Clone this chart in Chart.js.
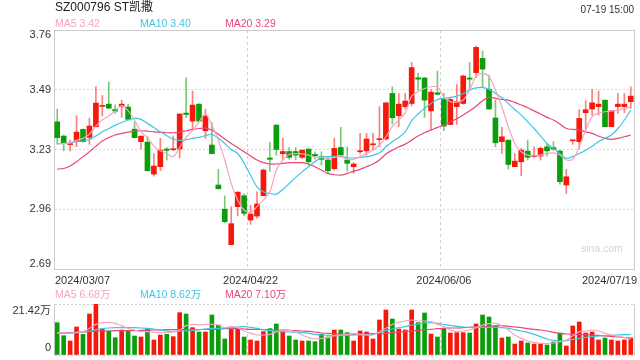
<!DOCTYPE html>
<html><head><meta charset="utf-8">
<script src="https://cdn.jsdelivr.net/npm/chart.js@4.4.1/dist/chart.umd.min.js"></script>
<style>
html,body{margin:0;padding:0;background:#fff;}
#wrap{position:relative;width:640px;height:360px;overflow:hidden;background:#fff;}
#main{position:absolute;left:0;top:0;}
#vol{position:absolute;left:0;top:290px;}
</style></head><body>
<div id="wrap"><canvas id="main" width="640" height="290"></canvas><canvas id="vol" width="640" height="70"></canvas></div>
<script>
const title = 'SZ000796 ST凯撒';
const timeText = '07-19 15:00';
const dates = ['2024/03/07','2024/03/08','2024/03/11','2024/03/12','2024/03/13','2024/03/14','2024/03/15','2024/03/18','2024/03/19','2024/03/20','2024/03/21','2024/03/22','2024/03/25','2024/03/26','2024/03/27','2024/03/28','2024/03/29',
'2024/04/01','2024/04/02','2024/04/03','2024/04/08','2024/04/09','2024/04/10','2024/04/11','2024/04/12','2024/04/15','2024/04/16','2024/04/17','2024/04/18','2024/04/19','2024/04/22','2024/04/23','2024/04/24','2024/04/25','2024/04/26','2024/04/29','2024/04/30',
'2024/05/06','2024/05/07','2024/05/08','2024/05/09','2024/05/10','2024/05/13','2024/05/14','2024/05/15','2024/05/16','2024/05/17','2024/05/20','2024/05/21','2024/05/22','2024/05/23','2024/05/24','2024/05/27','2024/05/28','2024/05/29','2024/05/30','2024/05/31',
'2024/06/03','2024/06/04','2024/06/05','2024/06/06','2024/06/11','2024/06/12','2024/06/13','2024/06/14','2024/06/17','2024/06/18','2024/06/19','2024/06/20','2024/06/21','2024/06/24','2024/06/25','2024/06/26','2024/06/27','2024/06/28',
'2024/07/01','2024/07/02','2024/07/03','2024/07/04','2024/07/05','2024/07/08','2024/07/09','2024/07/10','2024/07/11','2024/07/12','2024/07/15','2024/07/16','2024/07/17','2024/07/18','2024/07/19'];
const xTickLabels = ['2024/03/07','2024/04/22','2024/06/06','2024/07/19'];
const yTicks = [2.69, 2.9575, 3.225, 3.4925, 3.76];
const yTickLabels = ['2.69','2.96','3.23','3.49','3.76'];
const volTicks = [0, 21.42];
const volTickLabels = ['0','21.42万'];

const open = [3.349,3.285,3.247,3.260,3.315,3.279,3.327,3.418,3.428,3.404, 3.418,3.415,3.316,3.260,3.258,3.115,3.148,3.227,3.224,3.227, 3.388,3.352,3.428,3.309,3.245,3.066,2.958,2.799,2.969,3.018, 2.909,2.927,3.018,3.187,3.334,3.206,3.216,3.216,3.190,3.227, 3.203,3.193,3.178,3.139,3.234,3.178,3.148,3.215,3.219,3.246, 3.269,3.272,3.476,3.376,3.417,3.431,3.546,3.545,3.398,3.479, 3.449,3.337,3.417,3.431,3.545,3.569,3.633,3.495,3.366,3.260, 3.267,3.148,3.170,3.218,3.193,3.196,3.237,3.234,3.218,3.066, 3.264,3.260,3.390,3.406,3.417,3.446,3.327,3.417,3.417,3.439];
const high = [3.406,3.290,3.267,3.376,3.318,3.366,3.507,3.467,3.527,3.425, 3.446,3.427,3.348,3.285,3.282,3.207,3.275,3.234,3.285,3.384, 3.546,3.487,3.430,3.406,3.345,3.136,3.017,2.969,3.036,3.027, 2.976,3.036,3.137,3.257,3.337,3.276,3.234,3.234,3.225,3.227, 3.215,3.215,3.190,3.276,3.324,3.237,3.166,3.297,3.297,3.297, 3.417,3.434,3.506,3.476,3.476,3.615,3.566,3.548,3.494,3.576, 3.476,3.457,3.516,3.558,3.615,3.688,3.666,3.558,3.446,3.324, 3.267,3.207,3.230,3.267,3.237,3.237,3.252,3.260,3.222,3.136, 3.267,3.404,3.443,3.494,3.487,3.446,3.398,3.476,3.476,3.506];
const low = [3.249,3.219,3.219,3.237,3.258,3.248,3.325,3.376,3.408,3.387, 3.369,3.358,3.276,3.228,3.128,3.106,3.130,3.178,3.219,3.188, 3.367,3.316,3.350,3.275,3.206,3.049,2.897,2.799,2.928,2.928, 2.890,2.917,3.018,3.127,3.199,3.181,3.181,3.178,3.185,3.155, 3.182,3.155,3.121,3.133,3.200,3.128,3.118,3.205,3.200,3.222, 3.237,3.267,3.339,3.327,3.406,3.420,3.491,3.369,3.312,3.469, 3.309,3.337,3.337,3.428,3.494,3.548,3.506,3.406,3.237,3.207, 3.137,3.148,3.108,3.178,3.190,3.178,3.196,3.222,3.070,3.028, 3.248,3.230,3.312,3.379,3.379,3.327,3.327,3.387,3.390,3.409];
const close = [3.278,3.252,3.249,3.303,3.260,3.330,3.433,3.420,3.410,3.397, 3.428,3.360,3.278,3.285,3.130,3.151,3.222,3.221,3.227,3.384, 3.382,3.424,3.352,3.375,3.206,3.049,2.902,2.893,3.034,2.939, 2.936,2.981,3.133,3.181,3.225,3.216,3.190,3.200,3.222,3.170, 3.197,3.181,3.130,3.230,3.200,3.163,3.160,3.218,3.272,3.249, 3.272,3.434,3.367,3.428,3.442,3.592,3.540,3.446,3.482,3.472, 3.330,3.449,3.439,3.554,3.540,3.682,3.585,3.406,3.255,3.282, 3.158,3.173,3.222,3.190,3.196,3.230,3.219,3.227,3.081,3.103, 3.267,3.364,3.403,3.434,3.428,3.327,3.398,3.428,3.428,3.464];
const ma5 = [3.249,3.252,3.255,3.267,3.275,3.294,3.330,3.357,3.375,3.398, 3.421,3.398,3.357,3.304,3.279,3.240,3.219,3.207,3.193,3.234, 3.279,3.309,3.349,3.384,3.334,3.267,3.178,3.073,2.999,2.954, 2.942,2.969,2.999,3.036,3.133,3.178,3.203,3.207,3.205,3.200, 3.190,3.190,3.185,3.190,3.196,3.181,3.181,3.193,3.207,3.222, 3.245,3.282,3.327,3.357,3.389,3.464,3.484,3.498,3.506,3.506, 3.461,3.439,3.437,3.446,3.491,3.554,3.566,3.551,3.491,3.416, 3.327,3.252,3.215,3.200,3.196,3.200,3.207,3.210,3.200,3.178, 3.181,3.237,3.312,3.372,3.389,3.394,3.398,3.401,3.409,3.416];
const ma10 = [3.252,3.252,3.255,3.260,3.263,3.270,3.285,3.304,3.319,3.334, 3.346,3.357,3.364,3.360,3.342,3.324,3.304,3.287,3.272,3.266, 3.269,3.275,3.279,3.287,3.293,3.275,3.252,3.225,3.207,3.163, 3.110,3.058,3.036,3.028,3.025,3.046,3.073,3.100,3.125,3.148, 3.170,3.190,3.193,3.194,3.193,3.188,3.187,3.190,3.193,3.199, 3.210,3.237,3.260,3.279,3.304,3.354,3.384,3.409,3.431,3.449, 3.455,3.458,3.464,3.476,3.491,3.501,3.503,3.494,3.476,3.458, 3.431,3.404,3.379,3.349,3.319,3.285,3.252,3.230,3.207,3.185, 3.193,3.207,3.222,3.240,3.260,3.275,3.290,3.319,3.357,3.401];
const ma20 = [3.137,3.140,3.151,3.170,3.193,3.215,3.240,3.263,3.279,3.290, 3.297,3.303,3.307,3.309,3.307,3.304,3.302,3.300,3.300,3.303, 3.309,3.315,3.319,3.321,3.312,3.293,3.272,3.252,3.234,3.215, 3.196,3.178,3.166,3.160,3.160,3.163,3.166,3.166,3.166,3.160, 3.148,3.133,3.118,3.112,3.110,3.118,3.128,3.136,3.148,3.160, 3.178,3.205,3.222,3.237,3.249,3.267,3.285,3.300,3.312,3.324, 3.334,3.349,3.363,3.379,3.398,3.419,3.443,3.458,3.454,3.449, 3.446,3.436,3.424,3.412,3.398,3.384,3.369,3.357,3.339,3.319, 3.315,3.312,3.304,3.297,3.285,3.275,3.270,3.275,3.282,3.290];
const vol = [13.57,8.10,5.88,11.76,8.69,17.22,21.42,10.92,10.08,7.28, 10.50,10.08,7.98,7.56,11.06,6.30,8.40,8.68,7.70,17.78, 17.22,11.48,9.66,9.66,16.80,12.60,6.72,11.48,10.92,7.56, 6.30,5.88,9.80,11.06,13.02,9.80,7.98,6.30,5.88,5.88, 5.60,8.69,7.56,10.50,10.50,9.38,5.88,10.08,9.66,6.72, 14.70,18.90,15.12,10.92,10.50,18.90,13.57,17.64,8.82,7.56, 11.20,9.24,9.38,9.38,9.24,13.02,16.80,15.96,12.30,7.14, 7.56,4.62,5.88,5.04,4.62,4.62,4.20,5.46,9.24,3.78, 12.18,13.86,9.24,9.66,6.30,7.14,6.30,5.88,6.30,7.14];
const volMa5 = [9.38,9.38,9.10,9.52,9.80,11.20,12.88,13.58,13.72,13.30, 12.32,11.20,10.50,9.80,9.80,9.52,9.52,9.38,9.80,10.50, 12.32,12.88,12.60,12.88,12.88,12.60,11.48,11.90,11.48,10.08, 9.10,8.40,8.40,8.68,9.66,10.50,10.36,9.66,8.40,7.28, 6.72,7.00,7.28,8.12,8.40,8.68,8.96,8.68,8.40,8.40, 9.80,11.20,12.88,13.72,14.28,14.70,14.28,14.28,14.00,12.88, 11.90,10.50,9.80,10.08,10.50,11.48,12.60,13.16,13.30,12.32, 10.50,8.40,7.00,5.88,5.32,4.90,4.76,5.04,5.60,6.30, 8.12,9.80,10.08,10.50,10.08,9.10,8.40,7.70,7.28,6.68];
const volMa10 = [9.10,9.10,9.24,9.38,9.66,10.08,10.64,11.06,11.34,11.48, 11.48,11.48,11.48,11.34,11.20,10.92,10.50,10.08,9.80,9.94, 10.08,10.36,10.64,10.92,11.20,11.20,11.34,11.48,11.76,11.90, 11.62,11.20,10.64,10.22,9.94,9.80,9.66,9.52,9.38,9.10, 8.68,8.40,8.26,8.12,8.12,8.26,8.40,8.40,8.54,8.68, 9.52,10.22,10.92,11.48,11.90,12.60,13.02,13.44,13.58,13.30, 12.88,12.46,12.04,11.76,11.62,11.62,11.62,11.62,11.62,11.48, 11.20,10.64,10.08,9.52,8.68,7.70,6.72,6.16,5.88,6.02, 6.58,7.00,7.42,7.70,7.98,8.12,8.26,8.40,8.54,8.62];
const volMa20 = [9.10,9.24,9.38,9.52,9.66,9.80,9.94,10.08,10.08,10.22, 10.22,10.22,10.22,10.36,10.36,10.50,10.50,10.64,10.64,10.64, 10.64,10.64,10.64,10.78,10.78,10.92,11.06,11.06,11.06,10.92, 10.78,10.78,10.64,10.64,10.50,10.50,10.36,10.22,10.08,9.94, 9.66,9.24,9.10,8.96,8.82,8.68,8.68,8.68,8.82,8.96, 8.96,9.10,9.38,9.66,9.80,10.08,10.36,10.64,10.78,11.06, 11.20,11.34,11.34,11.48,11.62,11.76,11.90,12.04,12.18,12.32, 12.04,11.76,11.48,11.06,10.78,10.50,10.08,9.52,9.10,8.82, 8.68,8.54,8.54,8.40,8.26,7.98,7.84,7.56,7.28,7.10];

const FONT = '"Liberation Sans", Arial, "Noto Sans CJK SC", sans-serif';
Chart.defaults.font.family = FONT;
const UP = '#f5190b', DOWN = '#0a9e0a';
const UPW = 'rgba(245,25,11,0.55)', DOWNW = 'rgba(10,158,10,0.55)';
const C5 = '#f7a4c0', C10 = '#3ec6e2', C20 = '#e94679';
const GRID = '#d9d9d9', BORDER = '#cccccc', VGRID = '#cfcfcf';
const isUp = close.map((c, i) => c >= open[i]);
const last = a => a[a.length - 1];

function lineDs(label, data, color) {
  return {type:'line', label, data, borderColor:color, borderWidth:1.2, pointRadius:0, tension:0.3, fill:false, order:0};
}
function xScale(showLabels) {
  return {
    type:'category', offset:true,
    grid:{offset:true, drawTicks:false, lineWidth:1, color:c => (c.index === 30 || c.index === 60) ? VGRID : 'rgba(0,0,0,0)'},
    border:{display:showLabels, color:BORDER, dash:[3,3]},
    ticks:{display:showLabels, autoSkip:false, maxRotation:0, minRotation:0, align:'inner', padding:5, color:'#333', font:{size:11},
      callback:(v, i) => xTickLabels.includes(dates[i]) ? dates[i] : ''},
    afterFit:s => { s.height = showLabels ? 21 : 0; s.paddingLeft = 0; s.paddingRight = 0; }
  };
}
function yAfterFit(s) { s.width = 54; s.paddingTop = 0; s.paddingBottom = 0; }
const rightBorder = {type:'linear', position:'right', grid:{display:false, drawTicks:false}, ticks:{display:false},
  border:{display:true, color:BORDER}, afterFit:s => { s.width = 0; s.paddingTop = 0; s.paddingBottom = 0; }};

function legend(ctx, y, items) {
  ctx.save();
  ctx.font = '10.5px ' + FONT;
  ctx.textBaseline = 'middle';
  ctx.textAlign = 'left';
  items.forEach(it => { ctx.fillStyle = it[2]; ctx.fillText(it[0], it[1], y); });
  ctx.restore();
}

// nudge first/last date labels so they sit flush with the plot frame, as in the reference
const edgeLabels = {
  id:'edgeLabels',
  beforeDraw(chart) {
    const s = chart.scales.x;
    if (!s || !s.options.ticks.display) return;
    const items = s.getLabelItems(chart.chartArea);
    if (!items.length) return;
    items[0].options.translation[0] = s.left + 1;
    items[items.length - 1].options.translation[0] = s.right + 3;
  }
};

const mainText = {
  id:'mainText',
  beforeDatasetsDraw(chart) {
    const ctx = chart.ctx;
    ctx.save();
    ctx.font = '10.5px ' + FONT;
    ctx.fillStyle = '#d4d4d4';
    ctx.textAlign = 'right';
    ctx.textBaseline = 'middle';
    ctx.fillText('sina.com', chart.chartArea.right - 11, 249);
    ctx.restore();
  },
  afterDraw(chart) {
    const ctx = chart.ctx;
    ctx.save();
    ctx.textBaseline = 'middle';
    ctx.font = '12px ' + FONT;
    ctx.fillStyle = '#222';
    ctx.textAlign = 'left';
    ctx.fillText(title, 55, 8);
    ctx.font = '10px ' + FONT;
    ctx.fillStyle = '#333';
    ctx.textAlign = 'right';
    ctx.fillText(timeText, 634, 10);
    ctx.restore();
    legend(ctx, 24.5, [
      ['MA5 ' + last(ma5).toFixed(2), 55, C5],
      ['MA10 ' + last(ma10).toFixed(2), 140, C10],
      ['MA20 ' + last(ma20).toFixed(2), 225, C20]
    ]);
  }
};

new Chart(document.getElementById('main'), {
  type:'bar',
  data:{labels:dates, datasets:[
    lineDs('MA5', ma5, C5), lineDs('MA10', ma10, C10), lineDs('MA20', ma20, C20),
    {type:'bar', label:'K', data:open.map((o, i) => [o, close[i]]), backgroundColor:isUp.map(u => u ? UP : DOWN),
      barThickness:5, minBarLength:1, grouped:false, order:1},
    {type:'bar', label:'HL', data:low.map((l, i) => [l, high[i]]), backgroundColor:isUp.map(u => u ? UPW : DOWNW),
      barThickness:1, grouped:false, order:2}
  ]},
  options:{
    responsive:false, animation:false, devicePixelRatio:1,
    layout:{padding:{left:0, right:6, top:30, bottom:0}},
    plugins:{legend:{display:false}, tooltip:{enabled:false}},
    scales:{
      x:xScale(true),
      y:{type:'linear', position:'left', min:yTicks[0], max:last(yTicks),
        afterBuildTicks:s => { s.ticks = yTicks.map(v => ({value:v})); },
        afterFit:yAfterFit,
        grid:{drawTicks:false, lineWidth:1, color:c => c.index === yTicks.length - 1 ? BORDER : (c.index === 0 ? 'rgba(0,0,0,0)' : GRID)},
        border:{display:true, color:BORDER, dash:c => c.index === yTicks.length - 1 ? [] : [2,2]},
        ticks:{padding:3, color:'#333', font:{size:11, lineHeight:'10px'},
          callback:(v, i) => { const t = yTickLabels[i]; return i === yTicks.length - 1 ? ['', t] : (i === 0 ? [t, ''] : t); }}
      },
      yR:rightBorder
    }
  },
  plugins:[edgeLabels, mainText]
});

const volText = {
  id:'volText',
  afterDraw(chart) {
    legend(chart.ctx, 5, [
      ['MA5 ' + last(volMa5).toFixed(2) + '万', 55, C5],
      ['MA10 ' + last(volMa10).toFixed(2) + '万', 140, C10],
      ['MA20 ' + last(volMa20).toFixed(2) + '万', 225, C20]
    ]);
  }
};

new Chart(document.getElementById('vol'), {
  type:'bar',
  data:{labels:dates, datasets:[
    lineDs('MA5', volMa5, C5), lineDs('MA10', volMa10, C10), lineDs('MA20', volMa20, C20),
    {type:'bar', label:'VOL', data:vol, backgroundColor:isUp.map(u => u ? UP : DOWN), barThickness:4, grouped:false, order:1}
  ]},
  options:{
    responsive:false, animation:false, devicePixelRatio:1,
    layout:{padding:{left:0, right:6, top:14, bottom:5}},
    plugins:{legend:{display:false}, tooltip:{enabled:false}},
    scales:{
      x:xScale(false),
      y:{type:'linear', position:'left', min:volTicks[0], max:last(volTicks),
        afterBuildTicks:s => { s.ticks = volTicks.map(v => ({value:v})); },
        afterFit:yAfterFit,
        grid:{drawTicks:false, lineWidth:1, color:VGRID},
        border:{display:true, color:BORDER, dash:[2,2]},
        ticks:{padding:3, color:'#333', font:{size:11, lineHeight:'14px'},
          callback:(v, i) => { const t = volTickLabels[i]; return i === volTicks.length - 1 ? ['', t] : [t, '']; }}
      },
      yR:rightBorder
    }
  },
  plugins:[volText]
});
</script></body></html>
